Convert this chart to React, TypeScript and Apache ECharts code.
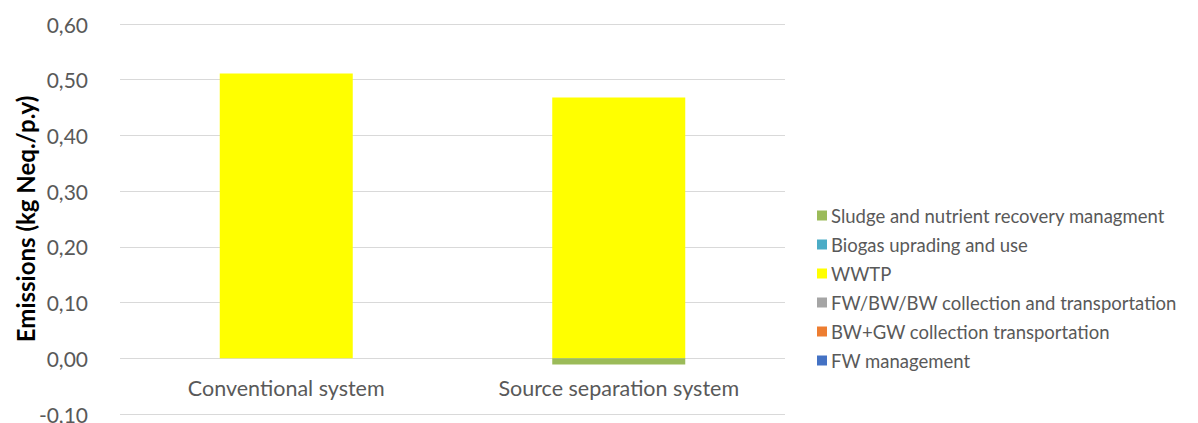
import React, { useEffect, useRef } from "react";
import * as echarts from "echarts";

const categories = ["Conventional system", "Source separation system"];
const seriesNames = [
  "FW management",
  "BW+GW collection transportation",
  "FW/BW/BW collection and transportation",
  "WWTP",
  "Biogas uprading and use",
  "Sludge and nutrient recovery managment",
];
const seriesColors = ["#4472C4", "#ED7D31", "#A5A5A5", "#FFFF00", "#4BACC6", "#9BBB59"];
const fwManagement = [0, 0];
const bwGwCollection = [0, 0];
const fwBwCollection = [0, 0];
const wwtp = [0.511, 0.468];
const biogas = [0, 0];
const sludge = [0, -0.011];
const seriesValues = [fwManagement, bwGwCollection, fwBwCollection, wwtp, biogas, sludge];
const yTicks = { min: -0.1, max: 0.6, interval: 0.1 };

const FONT = "Lato, 'Open Sans', sans-serif";

export default function App() {
  const ref = useRef<HTMLDivElement>(null);
  useEffect(() => {
    if (!ref.current) return;
    const chart = echarts.init(ref.current, undefined, { renderer: "svg" });
    chart.setOption({
      animation: false,
      textStyle: { fontFamily: FONT },
      grid: { left: 120, right: 413, top: 24, bottom: 9, containLabel: false, outerBoundsMode: "none" },
      legend: {
        orient: "vertical",
        left: 812,
        top: 201,
        itemWidth: 10,
        itemHeight: 10,
        itemGap: 10,
        icon: "rect",
        data: [...seriesNames].reverse(),
        textStyle: { fontSize: 18.5, color: "#595959", fontFamily: FONT, lineHeight: 19, padding: [0, 0, 0, -1] },
      },
      xAxis: {
        type: "category",
        data: categories,
        axisLine: { onZero: false, show: false },
        axisTick: { show: false },
        axisLabel: { fontSize: 21.5, color: "#595959", margin: -37, fontFamily: FONT },
      },
      yAxis: {
        type: "value",
        min: yTicks.min,
        max: yTicks.max,
        interval: yTicks.interval,
        name: "Emissions (kg Neq./p.y)",
        nameLocation: "middle",
        nameGap: 83,
        nameMoveOverlap: false,
        nameTextStyle: { fontSize: 24, fontWeight: "bold", color: "#000000", fontFamily: FONT },
        axisLine: { show: false },
        axisTick: { show: false },
        splitLine: { lineStyle: { color: "#D9D9D9", width: 1 } },
        axisLabel: {
          fontSize: 21,
          color: "#595959",
          margin: 32,
          fontFamily: FONT,
          formatter: (v: number) => v.toFixed(2).replace(".", ","),
        },
      },
      series: seriesNames.map((name, i) => ({
        name,
        type: "bar",
        stack: "total",
        barWidth: "40%",
        itemStyle: { color: seriesColors[i] },
        data: seriesValues[i],
      })),
    });
    return () => chart.dispose();
  }, []);
  return <div ref={ref} style={{ width: 1198, height: 423, marginLeft: -8, marginTop: -8 }} />;
}
